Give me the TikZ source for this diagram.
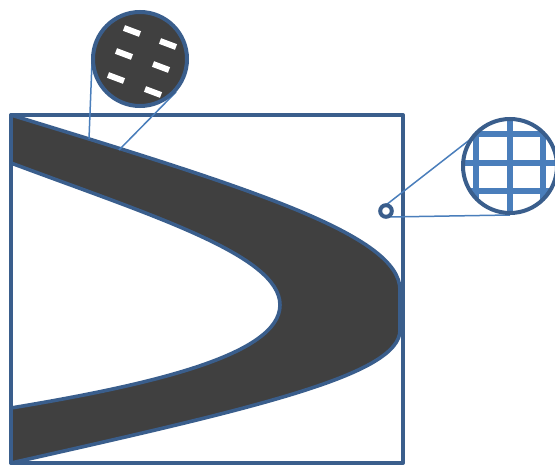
\documentclass[tikz,border=0pt]{standalone}
\usetikzlibrary{calc}
\definecolor{frameblue}{HTML}{3A5E8C}
\definecolor{lineblue}{HTML}{4A7EBB}
\definecolor{darkfill}{HTML}{404040}
\tikzset{
  framebox/.style={draw=frameblue, line width=4pt, line join=round},
  bandshape/.style={fill=darkfill, draw=frameblue, line width=3.6pt, line join=round},
  leader/.style={draw=lineblue, line width=1.5pt},
  lens/.style={draw=frameblue, line width=4pt},
  dashmark/.style={draw=white, line width=6pt},
  gridline/.style={draw=lineblue, line width=6pt},
}
\begin{document}
\begin{tikzpicture}[x=1pt,y=-1pt]
\useasboundingbox (0,0) rectangle (555,465);
% coordinates
\coordinate (sqTL) at (11,115);
\coordinate (sqBR) at (403,463);
\coordinate (c1) at (140,59);
\coordinate (c2) at (510,166);
\coordinate (ring) at (386,211);
\coordinate (p1) at (89,139);
\coordinate (p2) at (119,150);
% band
\path[bandshape] (11,115) .. controls (250,188) and (400,235) .. (400,290)
  -- (400,330) .. controls (400,375) and (255,408) .. (11,463)
  -- (11,408) .. controls (150,385) and (280,355) .. (280,305)
  .. controls (280,255) and (150,215) .. (11,163) -- cycle;
% frame
\draw[framebox] (sqTL) rectangle (sqBR);
% leaders to lens 1
\draw[leader] (p1) -- (92,62);
\draw[leader] (p2) -- (176,92);
% leaders to lens 2
\draw[leader] ($(ring)+(0,-6)$) -- (472,138);
\draw[leader] ($(ring)+(3,6)$) -- (510,215);
% lens 1
\fill[darkfill] (c1) circle (47);
\foreach \dx/\dy in {-8/-28, 28/-15, -16/-5, 21/8, -24/19, 13/33}{
  \draw[dashmark] ($(c1)+(\dx,\dy)+(-8,-3)$) -- ($(c1)+(\dx,\dy)+(8,3)$);
}
\draw[lens] (c1) circle (47);
% lens 2
\fill[white] (c2) circle (47);
\begin{scope}
  \clip (c2) circle (47);
  \foreach \d in {-34,0,33}{
    \draw[gridline] ($(c2)+(\d,-60)$) -- ($(c2)+(\d,60)$);
  }
  \foreach \d in {-32,-3,25}{
    \draw[gridline] ($(c2)+(-60,\d)$) -- ($(c2)+(60,\d)$);
  }
\end{scope}
\draw[lens] (c2) circle (47);
% ring
\fill[white] (ring) circle (5.8);
\draw[draw=frameblue, line width=4pt] (ring) circle (5.8);
\end{tikzpicture}
\end{document}
